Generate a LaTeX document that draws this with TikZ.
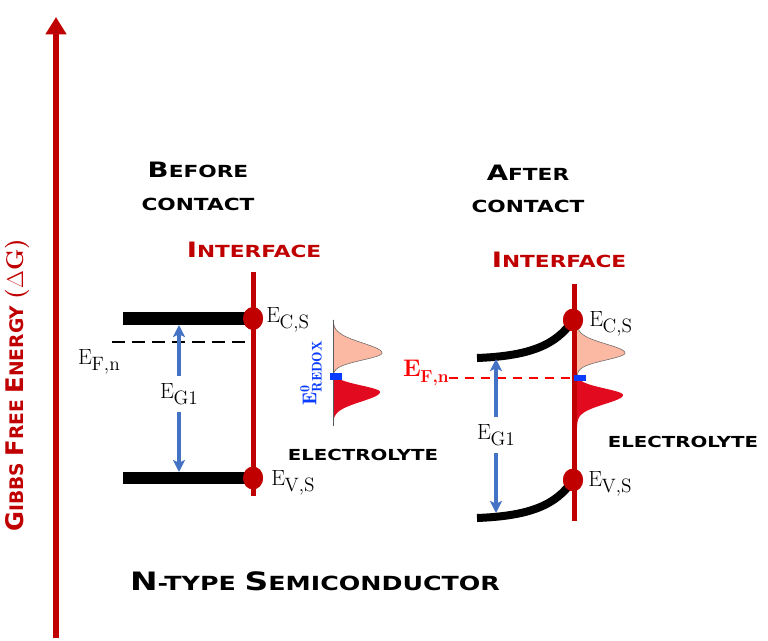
\documentclass[tikz,border=0pt]{standalone}
\usepackage{fontspec}
\usetikzlibrary{arrows.meta,shapes.geometric}
\newfontfamily\cop[FakeStretch=1.3]{DejaVu Sans}
\newfontfamily\copn{DejaVu Sans}
\definecolor{dred}{HTML}{C00000}
\definecolor{bred}{HTML}{FF0000}
\definecolor{arrblue}{HTML}{4472C4}
\definecolor{sqblue}{HTML}{0A3CFF}
\definecolor{salmon}{HTML}{FBB8A3}
\definecolor{gred}{HTML}{E10A1E}
% fake small caps: big first letter, smaller rest
\newcommand\BigL[1]{{\fontsize{15.9}{17}\selectfont #1}}
\newcommand\SmlL[1]{{\fontsize{12.5}{14}\selectfont #1}}
\newcommand\Es[2]{E\kern-0.3pt\raisebox{-0.25em}{\fontsize{#1}{#1}\selectfont #2}}
\tikzset{
  copt/.style={font=\cop\bfseries, inner sep=1pt},
  ifline/.style={dred, line width=3.75pt},
  band/.style={line width=9.5pt},
  bandc/.style={line width=6pt},
  dot/.style={ellipse, fill=dred, minimum width=15pt, minimum height=17pt, inner sep=0pt},
  elab/.style={font=\fontsize{16.5}{18}\selectfont, inner sep=0pt},
  barrow/.style={arrblue, line width=3pt, -{Stealth[length=9pt,width=9pt,inset=2pt]}},
  egl/.style={font=\fontsize{16.5}{18}\selectfont, minimum height=27pt, inner sep=0pt},
  sq/.style={fill=sqblue, minimum width=9pt, minimum height=5pt, inner sep=0pt},
  gup/.style={fill=salmon, draw=gray!80!black, line width=0.4pt},
  gdown/.style={fill=gred},
  gbase/.style={draw=gray!70!black, line width=0.5pt},
}
\begin{document}
\begin{tikzpicture}[x=0.75pt,y=-0.75pt]
\useasboundingbox (0,0) rectangle (768,640);
% ---------- energy axis ----------
\coordinate (axB) at (56,638);
\coordinate (axT) at (56,17);
\draw[dred, line width=4.5pt, -{Triangle[length=13pt,width=15pt]}] (axB) -- (axT);
\node[font=\copn\bfseries, inner sep=1pt, rotate=90, text=dred] (glab) at (17,385)
  {{\fontsize{18.2}{20}\selectfont G}{\fontsize{14}{16}\selectfont IBBS }{\fontsize{18.2}{20}\selectfont F}{\fontsize{14}{16}\selectfont REE }{\fontsize{18.2}{20}\selectfont E}{\fontsize{14}{16}\selectfont NERGY }{\rmfamily\bfseries\fontsize{18.2}{20}\selectfont ($\Delta$G)}};

% ---------- before contact ----------
\node[copt] (bef) at (198,170) {\BigL{B}\SmlL{EFORE}};
\node[copt] (con1) at (198,204) {\SmlL{CONTACT}};
\node[copt, text=dred] (int1) at (254,250) {\BigL{I}\SmlL{NTERFACE}};
\coordinate (i1t) at (253,272);
\coordinate (i1b) at (253,496);
\draw[ifline] (i1t) -- (i1b);
\coordinate (cbL1) at (123,318.5);
\coordinate (vbL1) at (123,478);
\node[dot] (cs1) at (253,318.5) {};
\node[dot] (vs1) at (253,478) {};
\draw[band] (cbL1) -- (cs1.center);
\draw[band] (vbL1) -- (vs1.center);
\node[dot] at (cs1) {};
\node[dot] at (vs1) {};
\node[elab, anchor=west] (ecs1) at (266,320) {\Es{14.5}{C,S}};
\node[elab, anchor=west] (evs1) at (271,483) {\Es{14.5}{V,S}};
\coordinate (fdL1) at (112,342);
\coordinate (fdR1) at (248,342);
\draw[line width=1.5pt, dash pattern=on 9.5pt off 5.5pt] (fdL1) -- (fdR1);
\node[elab] (efn1) at (99,362) {\Es{14.5}{F,n}};
\node[egl] (eg1) at (179,394) {\Es{14.5}{G1}};
\coordinate (cbA1) at (179,325);
\coordinate (vbA1) at (179,472);
\draw[barrow] (eg1.north) -- (cbA1);
\draw[barrow] (eg1.south) -- (vbA1);
% electrolyte distributions (left)
\fill[gdown]
  (333,362) -- (336,370) -- plot[domain=372:392, samples=40] ({333+47*exp(-0.5*((\x-392)/6.5)^2)},\x)
  -- plot[domain=392:425, samples=50] ({333+47*exp(-0.5*((\x-392)/9.5)^2)},\x) -- cycle;
\filldraw[gup]
  (333,320) -- plot[domain=320:353, samples=50] ({333+49*exp(-0.5*((\x-353)/10)^2)},\x)
  -- plot[domain=353:374, samples=40] ({333+49*exp(-0.5*((\x-353)/7)^2)},\x) -- (333,377);
\coordinate (gbT1) at (333,320);
\coordinate (gbB1) at (333,426);
\draw[gbase] (gbT1) -- (gbB1);
\node[sq] (rx1) at (336,376.5) {};
\node[rotate=90, text=sqblue, font=\fontsize{15}{17}\selectfont\bfseries, inner sep=0pt] (redox) at (311,373)
  {$\mathbf{E}^{\mathbf{0}}_{\mathbf{REDOX}}$};
\node[copt] (el1) at (363,455) {{\fontsize{11.4}{13}\selectfont ELECTROLYTE}};

% ---------- after contact ----------
\node[copt] (aft) at (528,173) {\BigL{A}\SmlL{FTER}};
\node[copt] (con2) at (528,206) {\SmlL{CONTACT}};
\node[copt, text=dred] (int2) at (559,260) {\BigL{I}\SmlL{NTERFACE}};
\coordinate (i2t) at (574,284);
\coordinate (i2b) at (574,521);
\draw[ifline] (i2t) -- (i2b);
\node[dot] (cs2) at (573,320) {};
\node[dot] (vs2) at (573,480) {};
\coordinate (cbL2) at (477,358);
\coordinate (vbL2) at (477,518);
\draw[bandc] (cbL2) .. controls (528,356) and (556,346) .. (cs2.center);
\draw[bandc] (vbL2) .. controls (528,516) and (556,506) .. (vs2.center);
% electrolyte distributions (right)
\fill[gdown]
  (577,375) -- plot[domain=375:395, samples=40] ({577+46*exp(-0.5*((\x-395)/6.5)^2)},\x)
  -- plot[domain=395:427, samples=50] ({577+46*exp(-0.5*((\x-395)/9)^2)},\x) -- cycle;
\filldraw[gup]
  (577,325) -- plot[domain=325:353, samples=50] ({577+48*exp(-0.5*((\x-353)/9)^2)},\x)
  -- plot[domain=353:375, samples=40] ({577+48*exp(-0.5*((\x-353)/7)^2)},\x) -- (577,377);
\node[dot] at (cs2) {};
\node[dot] at (vs2) {};
\node[elab, anchor=west] (ecs2) at (589,324) {\Es{14.5}{C,S}};
\node[elab, anchor=west] (evs2) at (588,484) {\Es{14.5}{V,S}};
\node[sq] (rx2) at (580,378) {};
\node[text=bred, font=\fontsize{18}{20}\selectfont\bfseries, inner sep=0pt] (efn2) at (426,373)
  {E\kern-0.5pt\raisebox{-0.25em}{\fontsize{13}{14}\selectfont F,n}};
\draw[bred, line width=1.5pt, dash pattern=on 7pt off 5pt] (efn2.east |- rx2) -- (rx2.west);
\node[egl] (eg2) at (496,435) {\Es{14.5}{G1}};
\coordinate (cbA2) at (496,359);
\coordinate (vbA2) at (496,513);
\draw[barrow] (eg2.north) -- (cbA2);
\draw[barrow] (eg2.south) -- (vbA2);
\node[copt] (el2) at (683,442) {{\fontsize{11.4}{13}\selectfont ELECTROLYTE}};

% ---------- bottom title ----------
\node[copt] (ntype) at (315,581)
  {{\fontsize{19}{21}\selectfont N}{\fontsize{14.6}{16}\selectfont -TYPE }{\fontsize{19}{21}\selectfont S}{\fontsize{14.6}{16}\selectfont EMICONDUCTOR}};
\end{tikzpicture}
\end{document}
